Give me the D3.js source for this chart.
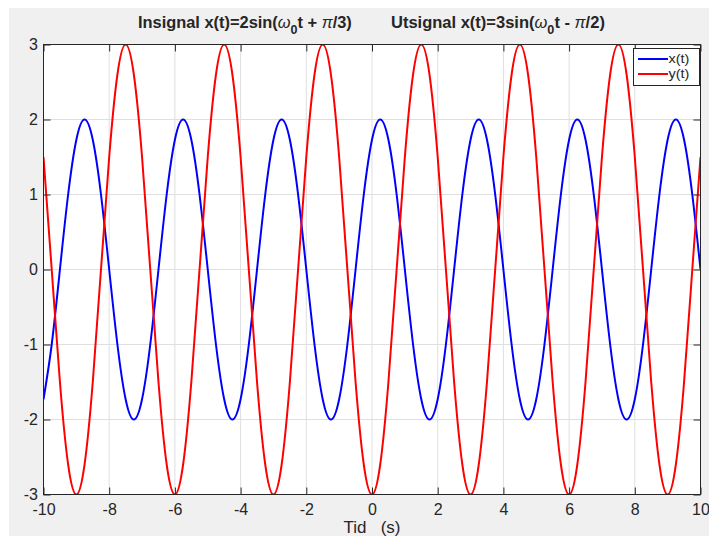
<!DOCTYPE html>
<html>
<head>
<meta charset="utf-8">
<script src="https://cdn.jsdelivr.net/npm/d3@7"></script>
<style>
	body { margin: 0; background: #fff; }
	svg { display: block; }
	text { font-family: "Liberation Sans", Arial, Helvetica, sans-serif; fill: #262626; }
</style>
</head>
<body>
<div id="chart-area"></div>
<script>
// Sample times (s)
const tValues = [
	-10, -9.75, -9.5, -9.25, -9, -8.75, -8.5, -8.25, -8, -7.75, -7.5, -7.25,
	-7, -6.75, -6.5, -6.25, -6, -5.75, -5.5, -5.25, -5, -4.75, -4.5, -4.25,
	-4, -3.75, -3.5, -3.25, -3, -2.75, -2.5, -2.25, -2, -1.75, -1.5, -1.25,
	-1, -0.75, -0.5, -0.25, 0, 0.25, 0.5, 0.75, 1, 1.25, 1.5, 1.75,
	2, 2.25, 2.5, 2.75, 3, 3.25, 3.5, 3.75, 4, 4.25, 4.5, 4.75,
	5, 5.25, 5.5, 5.75, 6, 6.25, 6.5, 6.75, 7, 7.25, 7.5, 7.75,
	8, 8.25, 8.5, 8.75, 9, 9.25, 9.5, 9.75, 10
];

// x(t)
const xSignal = [
	-1.73, -1, 0, 1, 1.73, 2, 1.73, 1, 0, -1, -1.73, -2,
	-1.73, -1, 0, 1, 1.73, 2, 1.73, 1, 0, -1, -1.73, -2,
	-1.73, -1, 0, 1, 1.73, 2, 1.73, 1, 0, -1, -1.73, -2,
	-1.73, -1, 0, 1, 1.73, 2, 1.73, 1, 0, -1, -1.73, -2,
	-1.73, -1, 0, 1, 1.73, 2, 1.73, 1, 0, -1, -1.73, -2,
	-1.73, -1, 0, 1, 1.73, 2, 1.73, 1, 0, -1, -1.73, -2,
	-1.73, -1, 0, 1, 1.73, 2, 1.73, 1, 0
];

// y(t)
const ySignal = [
	1.5, 0, -1.5, -2.6, -3, -2.6, -1.5, 0, 1.5, 2.6, 3, 2.6,
	1.5, 0, -1.5, -2.6, -3, -2.6, -1.5, 0, 1.5, 2.6, 3, 2.6,
	1.5, 0, -1.5, -2.6, -3, -2.6, -1.5, 0, 1.5, 2.6, 3, 2.6,
	1.5, 0, -1.5, -2.6, -3, -2.6, -1.5, 0, 1.5, 2.6, 3, 2.6,
	1.5, 0, -1.5, -2.6, -3, -2.6, -1.5, 0, 1.5, 2.6, 3, 2.6,
	1.5, 0, -1.5, -2.6, -3, -2.6, -1.5, 0, 1.5, 2.6, 3, 2.6,
	1.5, 0, -1.5, -2.6, -3, -2.6, -1.5, 0, 1.5
];

const xTicks = [-10, -8, -6, -4, -2, 0, 2, 4, 6, 8, 10];
const yTicks = [-3, -2, -1, 0, 1, 2, 3];
const seriesNames = ["x(t)", "y(t)"];
const seriesColors = ["#0000ff", "#ff0000"];

let width = 709,
	height = 536;

drawChart();

// squeeze/stretch a text horizontally so it spans w pixels from x
function fitWidth(sel, x, w) {
	let bw = sel.node().getBBox().width;
	let k = w / bw;
	sel.attr("transform", "translate(" + x + ",0) scale(" + k + ",1) translate(" + (-x) + ",0)");
}

function drawChart() {
	let margin = {top: 44.5, right: 8.5, bottom: 41.5, left: 43.5},
		w = width - margin.left - margin.right,
		h = height - margin.top - margin.bottom;

	let svg = d3.select("#chart-area").append("svg")
		.attr("width", width)
		.attr("height", height);

	// figure background
	svg.append("rect")
		.attr("x", 9).attr("y", 8)
		.attr("width", width - 9).attr("height", height - 8)
		.attr("fill", "#f0f0f0");

	let g = svg.append("g")
		.attr("transform", "translate(" + margin.left + "," + margin.top + ")");

	g.append("rect")
		.attr("width", w).attr("height", h)
		.attr("fill", "#fff");

	let xScale = d3.scaleLinear().domain([-10, 10]).range([0, w]);
	let yScale = d3.scaleLinear().domain([-3, 3]).range([h, 0]);

	// grid
	g.selectAll(".vgrid")
		.data(xTicks)
		.enter().append("line")
		.attr("class", "vgrid")
		.attr("x1", d => xScale(d)).attr("x2", d => xScale(d))
		.attr("y1", 0).attr("y2", h)
		.attr("stroke", "#dfdfdf");

	g.selectAll(".hgrid")
		.data(yTicks)
		.enter().append("line")
		.attr("class", "hgrid")
		.attr("x1", 0).attr("x2", w)
		.attr("y1", d => yScale(d)).attr("y2", d => yScale(d))
		.attr("stroke", "#dfdfdf");

	// curves
	g.append("clipPath").attr("id", "plot-clip")
		.append("rect").attr("width", w).attr("height", h);

	let line = d3.line()
		.x((d, i) => xScale(tValues[i]))
		.y(d => yScale(d))
		.curve(d3.curveNatural);

	[xSignal, ySignal].forEach((s, i) => {
		g.append("path")
			.datum(s)
			.attr("clip-path", "url(#plot-clip)")
			.attr("fill", "none")
			.attr("stroke", seriesColors[i])
			.attr("stroke-width", 2)
			.attr("d", line);
	});

	// axes (ticks pointing inward), plain hyphen minus like the original
	let fmt = d => String(d);
	let xAxis = d3.axisBottom(xScale).tickValues(xTicks).tickFormat(fmt).tickSizeInner(-7).tickSizeOuter(0).tickPadding(9);
	let yAxis = d3.axisLeft(yScale).tickValues(yTicks).tickFormat(fmt).tickSizeInner(-7).tickSizeOuter(0).tickPadding(5.5);
	let xAxisTop = d3.axisTop(xScale).tickValues(xTicks).tickSizeInner(-7).tickSizeOuter(0).tickFormat("");
	let yAxisRight = d3.axisRight(yScale).tickValues(yTicks).tickSizeInner(-7).tickSizeOuter(0).tickFormat("");

	let axes = [
		g.append("g").attr("transform", "translate(0," + h + ")").call(xAxis),
		g.append("g").call(yAxis),
		g.append("g").call(xAxisTop),
		g.append("g").attr("transform", "translate(" + w + ",0)").call(yAxisRight)
	];
	axes.forEach(a => {
		a.select(".domain").remove();
		a.selectAll("line").attr("stroke", "#262626");
		a.selectAll("text")
			.attr("fill", "#262626")
			.style("font-size", "16px")
			.style("font-family", "'Liberation Sans', Arial, Helvetica, sans-serif");
	});

	g.append("rect")
		.attr("width", w).attr("height", h)
		.attr("fill", "none")
		.attr("stroke", "#262626");

	// x-axis label
	svg.append("text")
		.attr("x", margin.left + w / 2)
		.attr("y", 532.5)
		.attr("text-anchor", "middle")
		.style("font-size", "17px")
		.style("white-space", "pre")
		.text("Tid   (s)");

	// titles
	let titles = [
		{x: 138, parts: ["Insignal x(t)=2sin(", "t + ", "/3)"]},
		{x: 391, parts: ["Utsignal x(t)=3sin(", "t - ", "/2)"]}
	];
	titles.forEach(tt => {
		let t = svg.append("text")
			.attr("x", tt.x)
			.attr("y", 28)
			.style("font-size", "17px")
			.style("font-weight", "bold")
			.style("white-space", "pre");
		t.append("tspan").text(tt.parts[0]);
		t.append("tspan").style("font-style", "italic").style("font-weight", "normal").text("ω");
		t.append("tspan").attr("dy", 6).style("font-size", "13px").text("0");
		t.append("tspan").attr("dy", -6).text(tt.parts[1]);
		t.append("tspan").style("font-style", "italic").style("font-weight", "normal").text("π");
		t.append("tspan").text(tt.parts[2]);
		fitWidth(t, tt.x, 214);
	});

	// legend
	let legend = g.append("g").attr("transform", "translate(590,4)");
	legend.append("rect")
		.attr("width", 66).attr("height", 37)
		.attr("fill", "#fff")
		.attr("stroke", "#262626");

	seriesNames.forEach((name, i) => {
		legend.append("line")
			.attr("x1", 4.5).attr("x2", 34.5)
			.attr("y1", 10.5 + i * 15).attr("y2", 10.5 + i * 15)
			.attr("stroke", seriesColors[i])
			.attr("stroke-width", 2);
		let lt = legend.append("text")
			.attr("x", 35)
			.attr("y", 15 + i * 15)
			.style("font-size", "13px")
			.text(name);
		fitWidth(lt, 35, 21);
	});
}
</script>
</body>
</html>
